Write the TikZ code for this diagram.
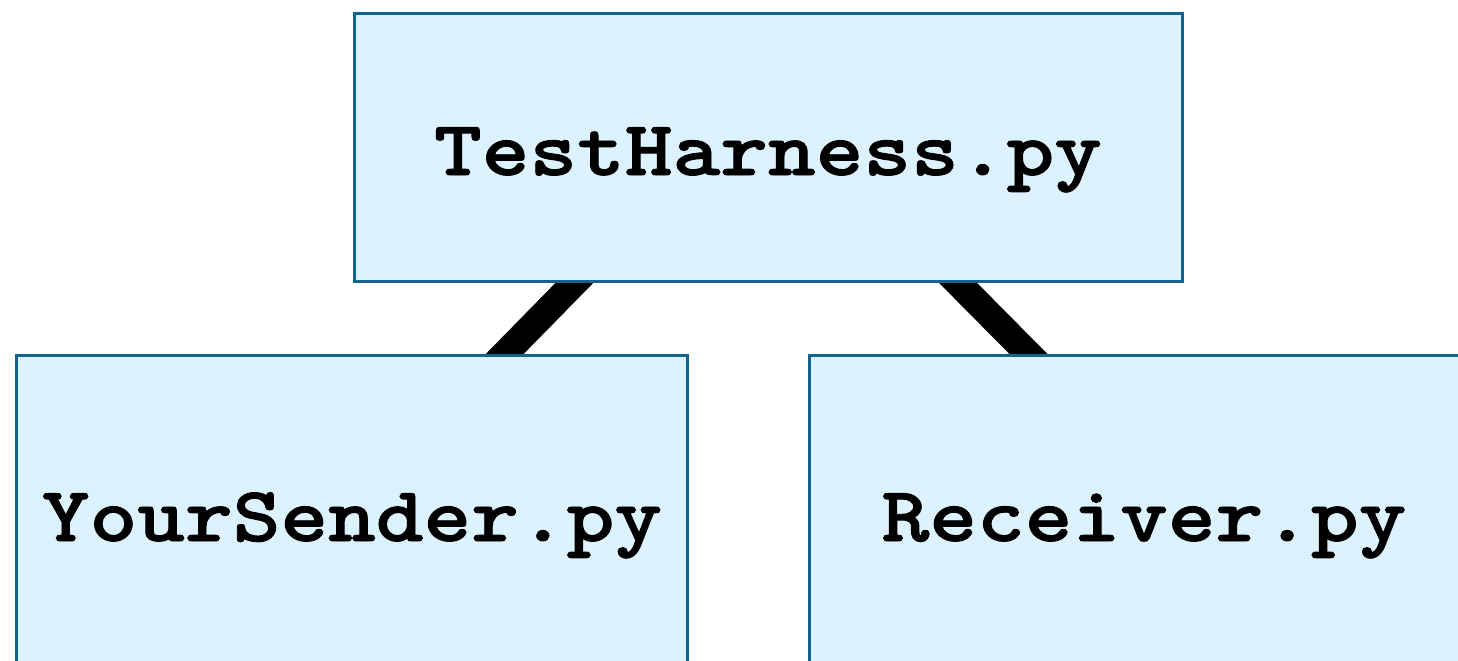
\documentclass[tikz,border=0pt]{standalone}
\usepackage{fontspec}
\newfontfamily\codefont{lmmonolt10-bold.otf}[FakeStretch=1.165, FakeBold=1.2]
\usetikzlibrary{calc,backgrounds}
\definecolor{boxfill}{RGB}{220,242,254}
\definecolor{boxline}{RGB}{18,100,142}
\tikzset{
  module/.style={draw=boxline, fill=boxfill, line width=3bp, inner sep=0pt,
    minimum width=#1, font=\fontsize{78bp}{94bp}\codefont,
    text height=55bp, text depth=0bp},
  link/.style={line width=27bp, black, line cap=butt,
    shorten <=-25bp, shorten >=-25bp}
}
\begin{document}
\begin{tikzpicture}[x=1bp, y=-1bp]
  \useasboundingbox (0,0) rectangle (1458,661);
  \clip (0,0) rectangle (1458,661);
  % script modules
  \node[module=828bp, minimum height=267bp] (harness) at (768,147.5) {TestHarness.py};
  \node[module=670bp, minimum height=317bp] (sender) at (352,513.5) {YourSender.py};
  \node[module=670bp, minimum height=317bp] (receiver) at (1144,513.5) {Receiver.py};
  % connections from the harness down to each script, tucked under the boxes
  \begin{scope}[on background layer]
    \draw[link] ($(harness.south west)!0.2675!(harness.south east)$)
             -- ($(sender.north west)!0.7276!(sender.north east)$);
    \draw[link] ($(harness.south west)!0.7282!(harness.south east)$)
             -- ($(receiver.north west)!0.3276!(receiver.north east)$);
  \end{scope}
\end{tikzpicture}
\end{document}
